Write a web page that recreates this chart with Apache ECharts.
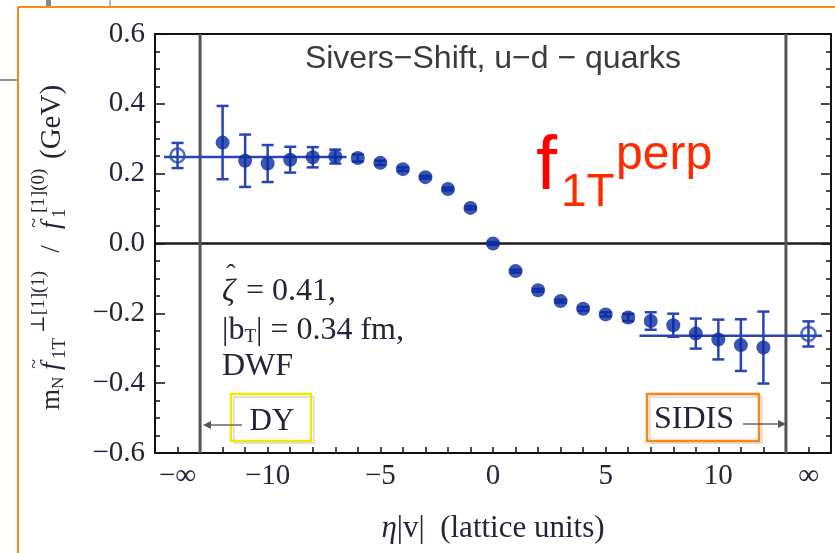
<!DOCTYPE html>
<html>
<head>
<meta charset="utf-8">
<script src="https://cdn.jsdelivr.net/npm/echarts@6/dist/echarts.min.js"></script>
<style>
  html, body { margin: 0; padding: 0; background: #fff; }
  #chart { width: 835px; height: 553px; }
</style>
</head>
<body>
<div id="chart"></div>
<script>
// Sivers shift (u−d quarks) against the staple length η|v|, lattice units
const etaV = [-12, -11, -10, -9, -8, -7, -6, -5, -4, -3, -2, -1, 0, 1, 2, 3, 4, 5, 6, 7, 8, 9, 10, 11, 12];
const siversShift = [0.289, 0.237, 0.229, 0.240, 0.247, 0.249, 0.245, 0.231, 0.213, 0.190, 0.156, 0.102, 0.000,
                     -0.079, -0.134, -0.165, -0.187, -0.203, -0.212, -0.222, -0.234, -0.258, -0.275, -0.291, -0.298];
const siversErr = [0.105, 0.075, 0.053, 0.037, 0.029, 0.020, 0.010, 0.006, 0.005, 0.004, 0.004, 0.004, 0.004,
                   0.004, 0.004, 0.004, 0.005, 0.006, 0.010, 0.025, 0.033, 0.043, 0.057, 0.074, 0.103];

// Extrapolated η|v| → ±∞ values, shown at the ±∞ ticks
const asymEta = [-14, 14];
const asymShift = [0.252, -0.259];
const asymErr = [0.036, 0.036];

// Plateau fits in the DY and SIDIS limits
const plateauDY = [-14.6, -6.5];
const plateauSIDIS = [6.5, 14.6];
const plateauVal = [0.248, -0.264];

// Staple-length limits and bottom tick labels
const limitEta = [-13, 13];
const xTickVals = [-14, -10, -5, 0, 5, 10, 14];
const xTickText = ['−∞', '−10', '−5', '0', '5', '10', '∞'];

const pointColor = '#0a2aa0';
const barColor = '#2746b4';
const serif = '"Liberation Serif", "DejaVu Serif", serif';
const sans = '"Liberation Sans", Arial, sans-serif';
const textDark = '#24243a';

const chart = echarts.init(document.getElementById('chart'), null, { renderer: 'canvas' });

function errorBar(params, api) {
  const x = api.value(0);
  const top = api.coord([x, api.value(2)]);
  const bot = api.coord([x, api.value(1)]);
  const cap = 6;
  const st = { stroke: barColor, lineWidth: 2.5 };
  return {
    type: 'group',
    children: [
      { type: 'line', shape: { x1: top[0], y1: top[1], x2: bot[0], y2: bot[1] }, style: st },
      { type: 'line', shape: { x1: top[0] - cap, y1: top[1], x2: top[0] + cap, y2: top[1] }, style: st },
      { type: 'line', shape: { x1: bot[0] - cap, y1: bot[1], x2: bot[0] + cap, y2: bot[1] }, style: st }
    ]
  };
}

const barData = etaV.map((x, i) => [x, siversShift[i] - siversErr[i], siversShift[i] + siversErr[i]]);
const asymBarData = asymEta.map((x, i) => [x, asymShift[i] - asymErr[i], asymShift[i] + asymErr[i]]);

const yFmt = v => (v < -1e-9 ? '−' : '') + Math.abs(v).toFixed(1);
const xFmt = v => {
  const k = xTickVals.indexOf(Math.round(v));
  return (k >= 0 && Math.abs(v - Math.round(v)) < 1e-6) ? xTickText[k] : '';
};

const frameLine = { show: true, onZero: false, lineStyle: { color: '#111', width: 2 } };

const option = {
  backgroundColor: '#fff',
  animation: false,
  grid: { left: 155, right: 4, top: 34, bottom: 100, containLabel: false },
  xAxis: [
    {
      type: 'value', min: -15, max: 15, interval: 1, position: 'bottom',
      axisLine: frameLine,
      axisTick: { show: true, inside: true, length: 6, lineStyle: { color: '#111', width: 1.5 } },
      axisLabel: { formatter: xFmt, margin: 9, fontFamily: serif, fontSize: 29, color: textDark },
      splitLine: { show: false },
      name: '{e|η}{n||v|  (lattice units)}', nameLocation: 'middle', nameGap: 60,
      nameTextStyle: {
        rich: {
          e: { fontFamily: serif, fontStyle: 'italic', fontSize: 31, color: textDark },
          n: { fontFamily: serif, fontSize: 31, color: textDark }
        }
      }
    },
    {
      type: 'value', min: -15, max: 15, position: 'top',
      axisLine: frameLine, axisTick: { show: false }, axisLabel: { show: false }, splitLine: { show: false }
    }
  ],
  yAxis: [
    {
      type: 'value', min: -0.6, max: 0.6, interval: 0.2, position: 'left',
      axisLine: frameLine,
      axisTick: { show: true, inside: true, length: 10, lineStyle: { color: '#111', width: 1.5 } },
      minorTick: { show: true, splitNumber: 4, length: 5, lineStyle: { color: '#111', width: 1.5 } },
      axisLabel: { formatter: yFmt, margin: 10, fontFamily: serif, fontSize: 29, color: textDark },
      splitLine: { show: false }
    },
    {
      type: 'value', min: -0.6, max: 0.6, interval: 0.2, position: 'right',
      axisLine: frameLine,
      axisTick: { show: true, inside: true, length: 10, lineStyle: { color: '#111', width: 1.5 } },
      minorTick: { show: true, splitNumber: 4, length: 5, lineStyle: { color: '#111', width: 1.5 } },
      axisLabel: { show: false },
      splitLine: { show: false }
    }
  ],
  series: [
    // zero line
    {
      type: 'line', data: [[-15, 0], [15, 0]], showSymbol: false, silent: true, z: 1,
      lineStyle: { color: '#1a1a1a', width: 2.5 }
    },
    // η|v| = ±13 limits
    ...limitEta.map(x => ({
      type: 'line', data: [[x, -0.6], [x, 0.6]], showSymbol: false, silent: true, z: 1,
      lineStyle: { color: '#555', width: 3 }
    })),
    // plateau fits
    {
      type: 'line', data: plateauDY.map(x => [x, plateauVal[0]]), showSymbol: false, z: 2,
      lineStyle: { color: barColor, width: 2.5 }
    },
    {
      type: 'line', data: plateauSIDIS.map(x => [x, plateauVal[1]]), showSymbol: false, z: 2,
      lineStyle: { color: barColor, width: 2.5 }
    },
    // lattice data
    {
      type: 'custom', renderItem: errorBar, data: barData, encode: { x: 0, y: [1, 2] }, z: 3
    },
    {
      type: 'scatter', data: etaV.map((x, i) => [x, siversShift[i]]), symbol: 'circle', symbolSize: 14, z: 4,
      itemStyle: { color: pointColor }
    },
    // extrapolated values at ±∞
    {
      type: 'custom', renderItem: errorBar, data: asymBarData, encode: { x: 0, y: [1, 2] }, z: 3
    },
    {
      type: 'scatter', data: asymEta.map((x, i) => [x, asymShift[i]]), symbol: 'circle', symbolSize: 14, z: 4,
      itemStyle: { color: 'rgba(255,255,255,0)', borderColor: barColor, borderWidth: 2.5 }
    }
  ],
  graphic: [
    // slide frame around the figure
    { type: 'line', shape: { x1: 18, y1: 7, x2: 835, y2: 7 }, style: { stroke: '#ff8a10', lineWidth: 2 } },
    { type: 'line', shape: { x1: 18, y1: 7, x2: 18, y2: 553 }, style: { stroke: '#ff8a10', lineWidth: 2 } },
    { type: 'rect', shape: { x: 46, y: 0, width: 5, height: 6 }, style: { fill: '#8a8a8a' } },
    { type: 'line', shape: { x1: 110, y1: 0, x2: 110, y2: 6 }, style: { stroke: '#777', lineWidth: 1 } },
    { type: 'line', shape: { x1: 0, y1: 80, x2: 17, y2: 80 }, style: { stroke: '#222', lineWidth: 1 } },

    // title inside the frame
    {
      type: 'text', x: 493, y: 59,
      style: { text: 'Sivers−Shift, u−d − quarks', font: '32px ' + sans, fill: '#3a3a40', align: 'center', verticalAlign: 'middle' }
    },

    // parameters
    { type: 'text', x: 222, y: 293, style: { text: 'ζ', font: 'italic 32px ' + serif, fill: textDark, verticalAlign: 'middle' } },
    { type: 'text', x: 231, y: 276, style: { text: 'ˆ', font: '28px ' + serif, fill: textDark, align: 'center', verticalAlign: 'middle' } },
    { type: 'text', x: 246, y: 292, style: { text: '= 0.41,', font: '32px ' + serif, fill: textDark, verticalAlign: 'middle' } },
    {
      type: 'text', x: 222, y: 331,
      style: {
        text: '|b{s|T}| = 0.34 fm,', font: '32px ' + serif, fill: textDark, verticalAlign: 'middle',
        rich: { s: { fontFamily: serif, fontSize: 19, fill: textDark, verticalAlign: 'bottom', lineHeight: 19 } }
      }
    },
    {
      type: 'text', x: 222, y: 367,
      style: { text: 'DWF', font: '32px ' + serif, fill: textDark, verticalAlign: 'middle' }
    },

    // DY limit label
    { type: 'rect', shape: { x: 234, y: 397, width: 80, height: 46 }, style: { fill: 'none', stroke: '#d8d8d8', lineWidth: 1.5 } },
    { type: 'rect', shape: { x: 231, y: 394, width: 80, height: 47 }, style: { fill: 'none', stroke: '#f2ea00', lineWidth: 2.5 } },
    { type: 'text', x: 272, y: 422, style: { text: 'DY', font: '31px ' + serif, fill: textDark, align: 'center', verticalAlign: 'middle' } },
    { type: 'line', shape: { x1: 242, y1: 425, x2: 206, y2: 425 }, style: { stroke: '#666', lineWidth: 1.5 } },
    { type: 'polygon', shape: { points: [[203, 425], [211, 421], [211, 429]] }, style: { fill: '#555' } },

    // SIDIS limit label
    { type: 'rect', shape: { x: 650, y: 397, width: 112, height: 46 }, style: { fill: 'none', stroke: '#d8d8d8', lineWidth: 1.5 } },
    { type: 'rect', shape: { x: 647, y: 394, width: 112, height: 47 }, style: { fill: 'none', stroke: '#ff8410', lineWidth: 2.5 } },
    { type: 'text', x: 694, y: 420, style: { text: 'SIDIS', font: '32px ' + serif, fill: textDark, align: 'center', verticalAlign: 'middle' } },
    { type: 'line', shape: { x1: 743, y1: 424, x2: 782, y2: 424 }, style: { stroke: '#666', lineWidth: 1.5 } },
    { type: 'polygon', shape: { points: [[786, 424], [778, 420], [778, 428]] }, style: { fill: '#555' } },

    // f_1T^perp tag
    { type: 'text', x: 536, y: 130, style: { text: 'f', font: '76px ' + sans, fill: '#ff0000', verticalAlign: 'top' } },
    { type: 'text', x: 561, y: 170, style: { text: '1T', font: '46px ' + sans, fill: '#ff2a00', verticalAlign: 'top' } },
    { type: 'text', x: 616, y: 132, style: { text: 'perp', font: '48px ' + sans, fill: '#ff2a00', verticalAlign: 'top' } },

    // y-axis title, read bottom to top
    {
      type: 'group', x: 52, y: 243, rotation: Math.PI / 2,
      children: [
        { type: 'text', x: -167, y: 0, style: { text: 'm', font: '27px ' + serif, fill: textDark, verticalAlign: 'middle' } },
        { type: 'text', x: -146, y: 7, style: { text: 'N', font: '17px ' + serif, fill: textDark, verticalAlign: 'middle' } },
        { type: 'text', x: -127, y: 0, style: { text: 'f', font: 'italic 27px ' + serif, fill: textDark, verticalAlign: 'middle' } },
        { type: 'text', x: -121, y: -17, style: { text: '~', font: '18px ' + serif, fill: textDark, align: 'center', verticalAlign: 'middle' } },
        { type: 'text', x: -116, y: 8, style: { text: '1T', font: '19px ' + serif, fill: textDark, verticalAlign: 'middle' } },
        { type: 'text', x: -90, y: -13, style: { text: '⊥[1](1)', font: '19px ' + serif, fill: textDark, verticalAlign: 'middle' } },
        { type: 'text', x: -6, y: 0, style: { text: '/', font: '27px ' + serif, fill: textDark, align: 'center', verticalAlign: 'middle' } },
        { type: 'text', x: 14, y: 0, style: { text: 'f', font: 'italic 27px ' + serif, fill: textDark, verticalAlign: 'middle' } },
        { type: 'text', x: 20, y: -17, style: { text: '~', font: '18px ' + serif, fill: textDark, align: 'center', verticalAlign: 'middle' } },
        { type: 'text', x: 25, y: 8, style: { text: '1', font: '19px ' + serif, fill: textDark, verticalAlign: 'middle' } },
        { type: 'text', x: 30, y: -13, style: { text: '[1](0)', font: '19px ' + serif, fill: textDark, verticalAlign: 'middle' } },
        { type: 'text', x: 84, y: 0, style: { text: '(GeV)', font: '29px ' + serif, fill: textDark, verticalAlign: 'middle' } }
      ]
    }
  ]
};

chart.setOption(option);
</script>
</body>
</html>
